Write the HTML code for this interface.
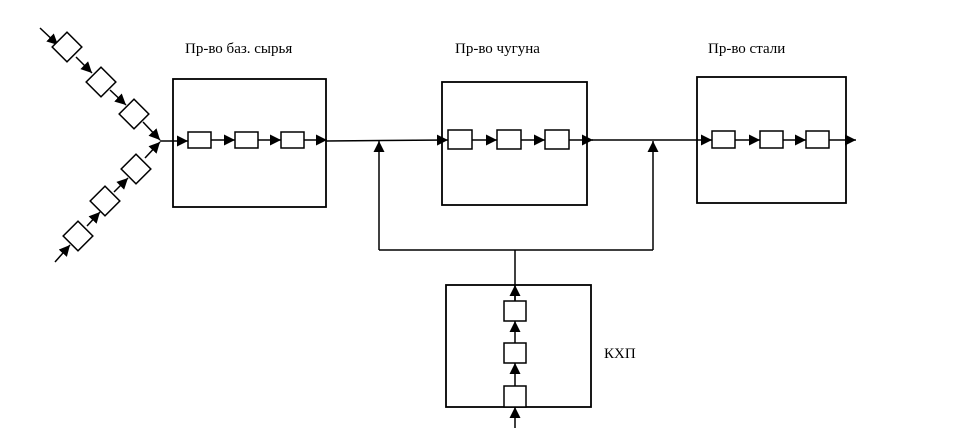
<!DOCTYPE html>
<html><head><meta charset="utf-8"><style>
html,body{margin:0;padding:0;background:#fff;width:958px;height:444px;overflow:hidden}
text{font-family:"Liberation Serif",serif;font-size:15px;fill:#000}
</style></head><body>
<svg width="958" height="444" viewBox="0 0 958 444" xmlns="http://www.w3.org/2000/svg">
<defs>
<marker id="a" viewBox="0 0 10 10" refX="10" refY="5" markerWidth="11" markerHeight="11" markerUnits="userSpaceOnUse" orient="auto"><path d="M0,0L10,5L0,10z" fill="#000"/></marker>
</defs>
<g stroke="#000" fill="none" stroke-width="1.5">
<rect x="173" y="79" width="153" height="128" stroke-width="1.8"/>
<rect x="442" y="82" width="145" height="123" stroke-width="1.8"/>
<rect x="697" y="77" width="149" height="126" stroke-width="1.8"/>
<rect x="446" y="285" width="145" height="122" stroke-width="1.8"/>
<rect x="188" y="132" width="23" height="16" fill="#fff"/>
<rect x="235" y="132" width="23" height="16" fill="#fff"/>
<rect x="281" y="132" width="23" height="16" fill="#fff"/>
<rect x="448" y="130" width="24" height="19" fill="#fff"/>
<rect x="497" y="130" width="24" height="19" fill="#fff"/>
<rect x="545" y="130" width="24" height="19" fill="#fff"/>
<rect x="712" y="131" width="23" height="17" fill="#fff"/>
<rect x="760" y="131" width="23" height="17" fill="#fff"/>
<rect x="806" y="131" width="23" height="17" fill="#fff"/>
<rect x="504" y="301" width="22" height="20" fill="#fff"/>
<rect x="504" y="343" width="22" height="20" fill="#fff"/>
<rect x="504" y="386" width="22" height="21" fill="#fff"/>
<line x1="160" y1="141" x2="188" y2="141" marker-end="url(#a)"/>
<line x1="211" y1="140" x2="235" y2="140" marker-end="url(#a)"/>
<line x1="258" y1="140" x2="281" y2="140" marker-end="url(#a)"/>
<line x1="304" y1="140" x2="327" y2="140" marker-end="url(#a)"/>
<line x1="326" y1="141" x2="448" y2="140" marker-end="url(#a)"/>
<line x1="472" y1="140" x2="497" y2="140" marker-end="url(#a)"/>
<line x1="521" y1="140" x2="545" y2="140" marker-end="url(#a)"/>
<line x1="569" y1="140" x2="593" y2="140" marker-end="url(#a)"/>
<line x1="592" y1="140" x2="712" y2="140" marker-end="url(#a)"/>
<line x1="735" y1="140" x2="760" y2="140" marker-end="url(#a)"/>
<line x1="783" y1="140" x2="806" y2="140" marker-end="url(#a)"/>
<line x1="829" y1="140" x2="856" y2="140" marker-end="url(#a)"/>
<polyline points="379,250 653,250"/>
<line x1="379" y1="250" x2="379" y2="141" marker-end="url(#a)"/>
<line x1="653" y1="250" x2="653" y2="141" marker-end="url(#a)"/>
<line x1="515" y1="250" x2="515" y2="301"/>
<line x1="515" y1="301" x2="515" y2="285" marker-end="url(#a)"/>
<line x1="515" y1="343" x2="515" y2="321" marker-end="url(#a)"/>
<line x1="515" y1="386" x2="515" y2="363" marker-end="url(#a)"/>
<line x1="515" y1="428" x2="515" y2="407" marker-end="url(#a)"/>
<line x1="40" y1="28" x2="58" y2="45" marker-end="url(#a)"/>
<line x1="76" y1="57" x2="92" y2="73" marker-end="url(#a)"/>
<line x1="110" y1="90" x2="126" y2="105" marker-end="url(#a)"/>
<line x1="143" y1="122" x2="160" y2="140" marker-end="url(#a)"/>
<line x1="55" y1="262" x2="70" y2="245" marker-end="url(#a)"/>
<line x1="87" y1="226" x2="100" y2="212" marker-end="url(#a)"/>
<line x1="114" y1="192" x2="128" y2="178" marker-end="url(#a)"/>
<line x1="145" y1="158" x2="160" y2="142" marker-end="url(#a)"/>
<g fill="#fff">
<rect x="-10.5" y="-10.5" width="21" height="21" transform="translate(67,47) rotate(45)"/>
<rect x="-10.5" y="-10.5" width="21" height="21" transform="translate(101,82) rotate(45)"/>
<rect x="-10.5" y="-10.5" width="21" height="21" transform="translate(134,114) rotate(45)"/>
<rect x="-10.5" y="-10.5" width="21" height="21" transform="translate(78,236) rotate(45)"/>
<rect x="-10.5" y="-10.5" width="21" height="21" transform="translate(105,201) rotate(45)"/>
<rect x="-10.5" y="-10.5" width="21" height="21" transform="translate(136,169) rotate(45)"/>
</g>
</g>
<text x="185" y="53">Пр-во баз. сырья</text>
<text x="455" y="53">Пр-во чугуна</text>
<text x="708" y="53">Пр-во стали</text>
<text x="604" y="358">КХП</text>
</svg>
</body></html>
